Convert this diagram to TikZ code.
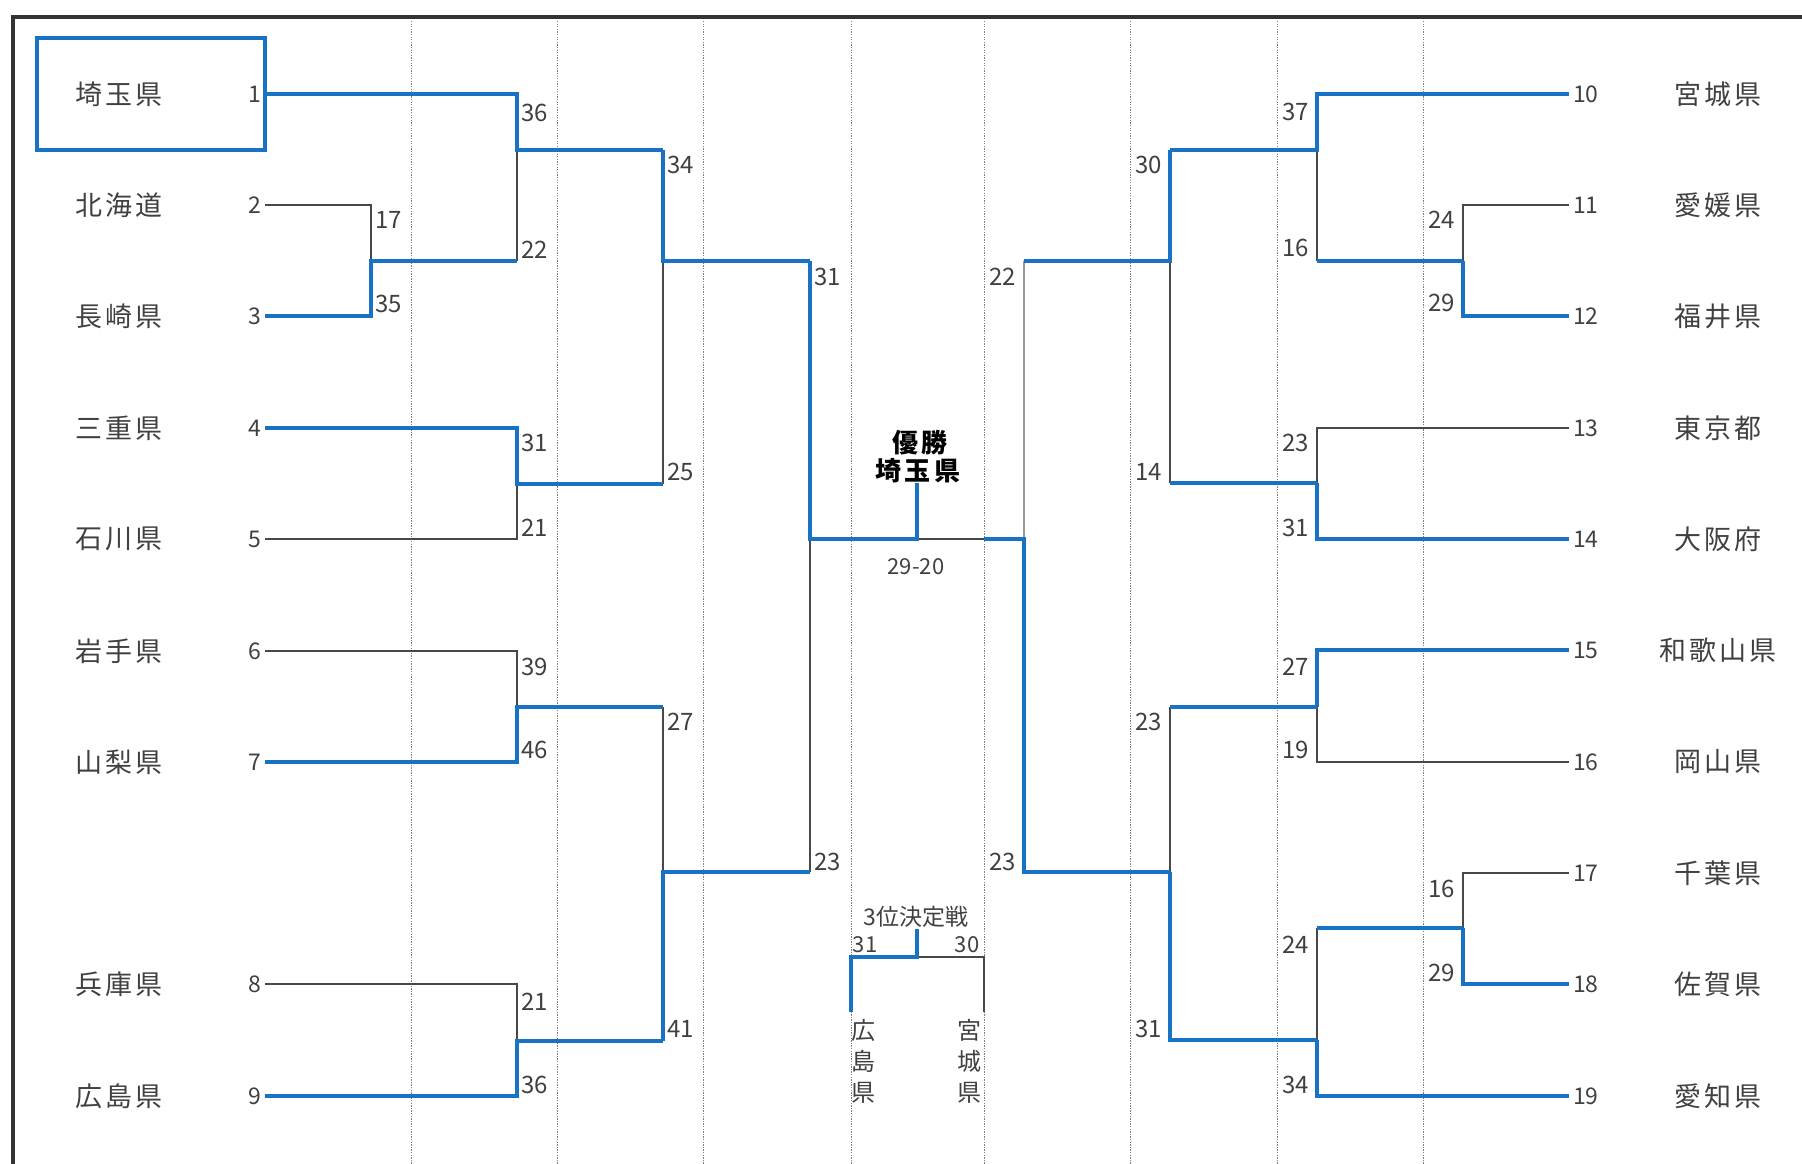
\documentclass[tikz,border=0pt]{standalone}
\usepackage{fontspec}
\setmainfont{Noto Sans CJK JP}
\newfontfamily\namefont[LetterSpace=12]{Noto Sans CJK JP}
\usetikzlibrary{positioning}

\definecolor{winblue}{RGB}{24,115,196}
\definecolor{losegray}{RGB}{72,72,72}
\definecolor{txtgray}{RGB}{64,64,64}
\definecolor{framegray}{RGB}{52,52,52}

\begin{document}
\begin{tikzpicture}[x=1pt, y=-1pt,
    win/.style={draw=winblue, line width=3.6pt},
    lose/.style={draw=losegray, line width=1.3pt},
    guide/.style={draw=gray, line width=1pt, dash pattern=on 1.3pt off 1.3pt},
    pageframe/.style={draw=framegray, line width=3.5pt},
    team/.style={font=\namefont\fontsize{27}{30}\selectfont, text=txtgray, inner sep=0pt},
    seed/.style={font=\fontsize{23}{26}\selectfont, text=txtgray, inner xsep=4pt, inner ysep=0pt},
    lscore/.style={font=\fontsize{24}{26}\selectfont, text=txtgray, inner sep=0pt, anchor=west},
    rscore/.style={lscore, anchor=east},
    smalltxt/.style={font=\fontsize{22}{24}\selectfont, text=txtgray, inner sep=0pt}]
  \useasboundingbox (0,0) rectangle (1802,1164);

  % Frame and dotted round guides
  \draw[pageframe] (13,1164) -- (13,17) -- (1802,17);
  \draw[guide] (411,21) -- (411,1164);
  \draw[guide] (557,21) -- (557,1164);
  \draw[guide] (703,21) -- (703,1164);
  \draw[guide] (851,21) -- (851,1164);
  \draw[guide] (984,21) -- (984,1164);
  \draw[guide] (1130,21) -- (1130,1164);
  \draw[guide] (1277,21) -- (1277,1164);
  \draw[guide] (1423,21) -- (1423,1164);

  % Left teams
  \node[draw=winblue, line width=3.6pt, minimum width=228pt, minimum height=112pt, inner sep=0pt, outer sep=0pt] (box1) at (151,94) {};
  \node[team] (t1) at (119,94) {埼玉県};
  \node[team] (t2) at (119,205) {北海道};
  \node[team] (t3) at (119,316) {長崎県};
  \node[team] (t4) at (119,428) {三重県};
  \node[team] (t5) at (119,539) {石川県};
  \node[team] (t6) at (119,651) {岩手県};
  \node[team] (t7) at (119,762) {山梨県};
  \node[team] (t8) at (119,984) {兵庫県};
  \node[team] (t9) at (119,1096) {広島県};
  \node[seed, anchor=east] (s1) at (265,94) {1};
  \node[seed, anchor=east] (s2) at (265,205) {2};
  \node[seed, anchor=east] (s3) at (265,316) {3};
  \node[seed, anchor=east] (s4) at (265,428) {4};
  \node[seed, anchor=east] (s5) at (265,539) {5};
  \node[seed, anchor=east] (s6) at (265,651) {6};
  \node[seed, anchor=east] (s7) at (265,762) {7};
  \node[seed, anchor=east] (s8) at (265,984) {8};
  \node[seed, anchor=east] (s9) at (265,1096) {9};

  % Right teams
  \node[team] (t10) at (1718,94) {宮城県};
  \node[team] (t11) at (1718,205) {愛媛県};
  \node[team] (t12) at (1718,316) {福井県};
  \node[team] (t13) at (1718,428) {東京都};
  \node[team] (t14) at (1718,539) {大阪府};
  \node[team] (t15) at (1718,650) {和歌山県};
  \node[team] (t16) at (1718,762) {岡山県};
  \node[team] (t17) at (1718,873) {千葉県};
  \node[team] (t18) at (1718,984) {佐賀県};
  \node[team] (t19) at (1718,1096) {愛知県};
  \node[seed, anchor=west] (s10) at (1569,94) {10};
  \node[seed, anchor=west] (s11) at (1569,205) {11};
  \node[seed, anchor=west] (s12) at (1569,316) {12};
  \node[seed, anchor=west] (s13) at (1569,428) {13};
  \node[seed, anchor=west] (s14) at (1569,539) {14};
  \node[seed, anchor=west] (s15) at (1569,650) {15};
  \node[seed, anchor=west] (s16) at (1569,762) {16};
  \node[seed, anchor=west] (s17) at (1569,873) {17};
  \node[seed, anchor=west] (s18) at (1569,984) {18};
  \node[seed, anchor=west] (s19) at (1569,1096) {19};

  % Junctions
  \coordinate (jL23) at (371,261);
  \coordinate (jL1) at (517,150);
  \coordinate (jL45) at (517,484);
  \coordinate (jL67) at (517,707);
  \coordinate (jL89) at (517,1041);
  \coordinate (jLq1) at (663,261);
  \coordinate (jLq2) at (663,872);
  \coordinate (jLs) at (810,539);
  \coordinate (jF) at (917,539);
  \coordinate (jC) at (917,483);
  \coordinate (jFr) at (984,539);
  \coordinate (jRs) at (1024,539);
  \coordinate (jRq1) at (1170,261);
  \coordinate (jRq2) at (1170,872);
  \coordinate (jR1) at (1317,150);
  \coordinate (jR1314) at (1317,483);
  \coordinate (jR1516) at (1317,707);
  \coordinate (jR19) at (1317,1040);
  \coordinate (jR1112) at (1463,261);
  \coordinate (jR1718) at (1463,928);

  % Losing paths
  \draw[lose] (s2.east) -| (jL23);
  \draw[lose] (jL1) -- (jL1 |- jL23);
  \draw[lose] (s5.east) -| (jL45);
  \draw[lose] (s6.east) -| (jL67);
  \draw[lose] (s8.east) -| (jL89);
  \draw[lose] (jLq1) -- (jLq1 |- jL45);
  \draw[lose] (jLq2 |- jL67) -- (jLq2);
  \draw[lose] (jLs) -- (jLs |- jLq2);
  \draw[lose] (jF) -- (jFr);
  \draw[lose, draw=gray!80] (jRs |- jRq1) -- (jRs);
  \draw[lose] (jRq1) -- (jRq1 |- jR1314);
  \draw[lose] (jRq2 |- jR1516) -- (jRq2);
  \draw[lose] (jR1) -- (jR1 |- jR1112);
  \draw[lose] (s13.west) -| (jR1314);
  \draw[lose] (s16.west) -| (jR1516);
  \draw[lose] (jR19 |- jR1718) -- (jR19);
  \draw[lose] (s11.west) -| (jR1112);
  \draw[lose] (s17.west) -| (jR1718);

  % Winning paths
  \draw[win] (s3.east) -| (jL23) -- (jL1 |- jL23);
  \draw[win] (box1.east) -| (jL1) -- (jLq1 |- jL1);
  \draw[win] (s4.east) -| (jL45) -- (jLq1 |- jL45);
  \draw[win] (s7.east) -| (jL67) -- (jLq2 |- jL67);
  \draw[win] (s9.east) -| (jL89) -- (jLq2 |- jL89);
  \draw[win] (jLq1 |- jL1) -- (jLq1) -- (jLs |- jLq1);
  \draw[win] (jLq2 |- jL89) -- (jLq2) -- (jLs |- jLq2);
  \draw[win] (jLs |- jLq1) -- (jLs) -- (jF) -- (jC);
  \draw[win] (jFr) -- (jRs) -- (jRs |- jRq2) -- (jRq2);
  \draw[win] (jRq1 |- jR1) -- (jRq1) -- (jRs |- jRq1);
  \draw[win] (jR1314) -- (jRq1 |- jR1314);
  \draw[win] (jR1516) -- (jRq2 |- jR1516);
  \draw[win] (jR19) -- (jRq2 |- jR19) -- (jRq2);
  \draw[win] (s10.west) -| (jR1) -- (jRq1 |- jR1);
  \draw[win] (jR1112) -- (jR1 |- jR1112);
  \draw[win] (s14.west) -| (jR1314);
  \draw[win] (s15.west) -| (jR1516);
  \draw[win] (jR1718) -- (jR19 |- jR1718);
  \draw[win] (s19.west) -| (jR19);
  \draw[win] (s12.west) -| (jR1112);
  \draw[win] (s18.west) -| (jR1718);

  % Scores left
  \node[lscore] (a1) at (375,220) {17};
  \node[lscore] (a2) at (375,304) {35};
  \node[lscore] (b1) at (521,113) {36};
  \node[lscore] (b2) at (521,250) {22};
  \node[lscore] (b3) at (521,443) {31};
  \node[lscore] (b4) at (521,528) {21};
  \node[lscore] (b5) at (521,667) {39};
  \node[lscore] (b6) at (521,750) {46};
  \node[lscore] (b7) at (521,1002) {21};
  \node[lscore] (b8) at (521,1085) {36};
  \node[lscore] (c1) at (667,165) {34};
  \node[lscore] (c2) at (667,472) {25};
  \node[lscore] (c3) at (667,722) {27};
  \node[lscore] (c4) at (667,1029) {41};
  \node[lscore] (d1) at (814,277) {31};
  \node[lscore] (d2) at (814,862) {23};

  % Scores right
  \node[rscore] (e1) at (1016,277) {22};
  \node[rscore] (e2) at (1016,862) {23};
  \node[rscore] (f1) at (1162,165) {30};
  \node[rscore] (f2) at (1162,472) {14};
  \node[rscore] (f3) at (1162,722) {23};
  \node[rscore] (f4) at (1162,1029) {31};
  \node[rscore] (g1) at (1309,112) {37};
  \node[rscore] (g2) at (1309,248) {16};
  \node[rscore] (g3) at (1309,443) {23};
  \node[rscore] (g4) at (1309,528) {31};
  \node[rscore] (g5) at (1309,667) {27};
  \node[rscore] (g6) at (1309,750) {19};
  \node[rscore] (g7) at (1309,945) {24};
  \node[rscore] (g8) at (1309,1085) {34};
  \node[rscore] (h1) at (1455,220) {24};
  \node[rscore] (h2) at (1455,303) {29};
  \node[rscore] (h3) at (1455,889) {16};
  \node[rscore] (h4) at (1455,973) {29};

  % Final
  \node[font=\namefont\fontsize{26}{28}\selectfont\bfseries, inner sep=0pt] (champ1) at (920,443) {優勝};
  \node[font=\namefont\fontsize{26}{28}\selectfont\bfseries, inner sep=0pt] (champ2) at (918,471) {埼玉県};
  \node[smalltxt] (final) at (916,567) {29-20};

  % Third place
  \coordinate (jT) at (917,957);
  \coordinate (jTc) at (917,929);
  \coordinate (jTl) at (851,1012);
  \coordinate (jTr) at (984,1012);
  \draw[lose] (jT) -| (jTr);
  \draw[win] (jTl) |- (jT) -- (jTc);
  \node[smalltxt, font=\fontsize{23}{25}\selectfont] (third) at (916,917) {3位決定戦};
  \node[smalltxt] (th1) at (865,945) {31};
  \node[smalltxt] (th2) at (967,945) {30};
  \node[smalltxt, font=\fontsize{24}{31}\selectfont, align=center] (th3) at (863,1061) {広\\島\\県};
  \node[smalltxt, font=\fontsize{24}{31}\selectfont, align=center] (th4) at (969,1061) {宮\\城\\県};
\end{tikzpicture}
\end{document}
